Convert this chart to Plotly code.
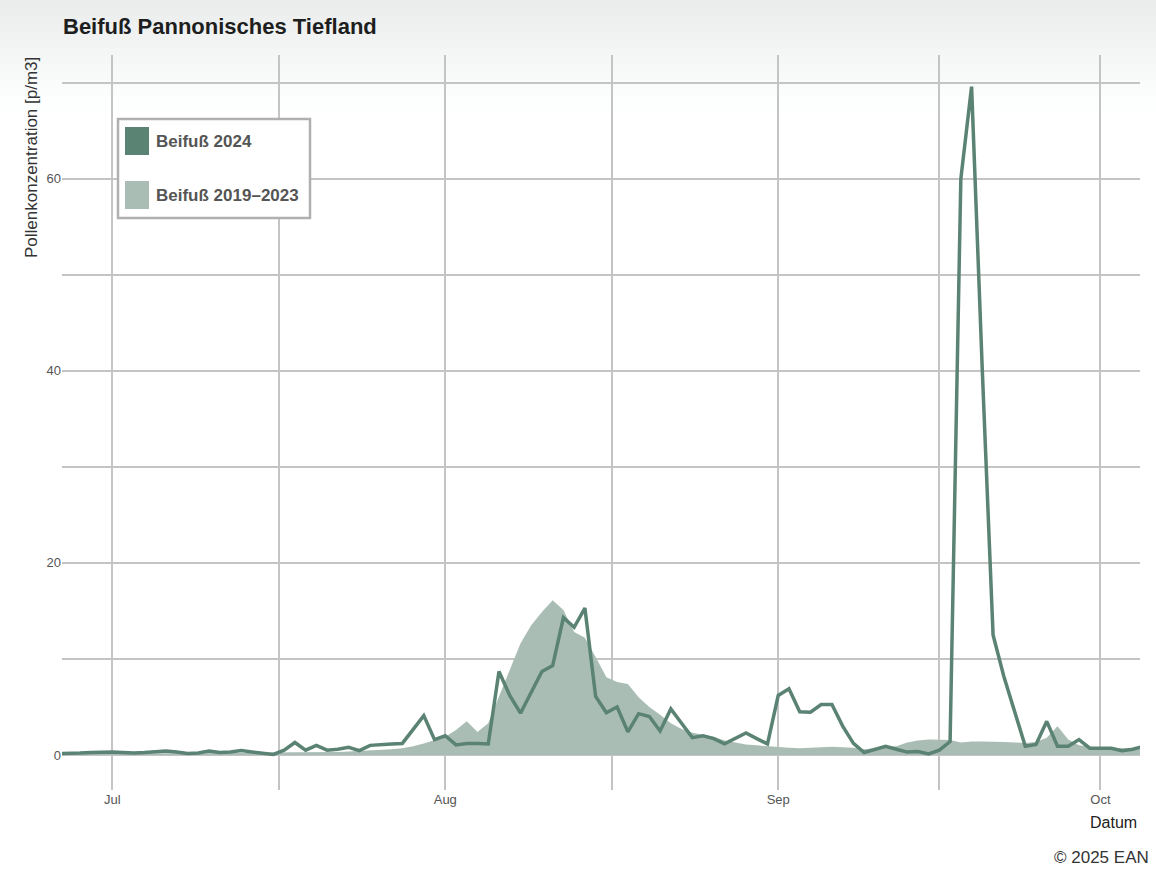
import pandas as pd
import plotly.graph_objects as go

# ---- data (daily values, starting 2024-06-26) ----
start_date = "2024-06-26"
beifuss_2024 = [
    0.15, 0.15, 0.2, 0.25, 0.3,            # Jun 26-30
    0.3, 0.25, 0.2, 0.25, 0.3, 0.4, 0.3, 0.15, 0.2, 0.4,
    0.25, 0.3, 0.45, 0.3, 0.15, 0.05, 0.5, 1.3, 0.5, 1.0,
    0.5, 0.6, 0.8, 0.45, 1.0, 1.1, 1.15, 1.2, 2.6, 4.1, 1.6,   # Jul
    2.0, 1.05, 1.2, 1.2, 1.15, 8.7, 6.2, 4.35, 6.5, 8.7,
    9.3, 14.3, 13.3, 15.3, 6.1, 4.4, 5.0, 2.4, 4.3, 4.0,
    2.5, 4.8, 3.3, 1.8, 2.0, 1.7, 1.15, 1.7, 2.3, 1.7, 1.15,    # Aug
    6.2, 6.9, 4.5, 4.45, 5.25, 5.25, 3.0, 1.2, 0.25, 0.6,
    0.9, 0.6, 0.3, 0.35, 0.1, 0.5, 1.4, 60.0, 69.6, 40.0,
    12.5, 8.2, 4.6, 0.9, 1.1, 3.5, 0.9, 0.9, 1.6, 0.7,          # Sep
    0.7, 0.7, 0.45, 0.6, 0.9,                                   # Oct 1-5
]
beifuss_2019_2023 = [
    0.15, 0.15, 0.15, 0.15, 0.15,
    0.15, 0.15, 0.15, 0.2, 0.2, 0.2, 0.2, 0.2, 0.2, 0.2,
    0.2, 0.2, 0.2, 0.2, 0.25, 0.25, 0.25, 0.25, 0.25, 0.25,
    0.25, 0.3, 0.35, 0.4, 0.45, 0.5, 0.6, 0.7, 0.9, 1.2, 1.55,
    1.9, 2.6, 3.5, 2.4, 3.3, 6.1, 8.9, 11.6, 13.5, 14.9,
    16.1, 15.1, 12.8, 12.2, 10.2, 8.1, 7.6, 7.4, 6.0, 5.0,
    4.2, 3.3, 2.7, 2.3, 2.1, 1.9, 1.5, 1.3, 1.1, 1.0, 0.9,
    0.85, 0.75, 0.7, 0.75, 0.8, 0.85, 0.8, 0.75, 0.6, 0.7,
    0.85, 0.9, 1.3, 1.5, 1.6, 1.6, 1.55, 1.3, 1.4, 1.4,
    1.4, 1.35, 1.3, 1.25, 1.35, 1.8, 3.0, 1.6, 1.0, 0.85,
    0.7, 0.7, 0.7, 0.7, 0.7,
]
month_ticks = ["2024-07-01", "2024-07-16 12:00", "2024-08-01", "2024-08-16 12:00",
               "2024-09-01", "2024-09-16", "2024-10-01"]
month_labels = ["Jul", "", "Aug", "", "Sep", "", "Oct"]
y_ticks = [0, 10, 20, 30, 40, 50, 60, 70]
y_labels = ["0", "", "20", "", "40", "", "60", ""]

dates = pd.date_range(start_date, periods=len(beifuss_2024), freq="D")

C_LINE = "#5b8373"
C_AREA = "#a9bdb4"
GRID = "#c4c4c4"
FONT = "Liberation Sans, Arial, sans-serif"

fig = go.Figure()
fig.add_trace(go.Scatter(
    x=dates, y=beifuss_2019_2023, mode="lines", fill="tozeroy",
    fillcolor=C_AREA, line=dict(width=0, color=C_AREA),
    name="Beifuß 2019–2023", showlegend=False,
))
fig.add_trace(go.Scatter(
    x=dates, y=beifuss_2024, mode="lines",
    line=dict(width=3.5, color=C_LINE),
    name="Beifuß 2024", showlegend=False,
))

W, H = 1156, 872
L, R, T, B = 62, 16, 55, 82
pw, ph = W - L - R, H - T - B

def px(xpix):
    return (xpix - L) / pw

def py(ypix):
    return 1 - (ypix - T) / ph

shapes = []
# soft gradient at the top of the page
n = 14
for i in range(n):
    y0p, y1p = i * 8, (i + 1) * 8
    g = int(234 + (255 - 234) * (i / n))
    shapes.append(dict(type="rect", xref="paper", yref="paper",
                       x0=px(0), x1=px(W), y0=py(y1p), y1=py(y0p),
                       fillcolor=f"rgb({g},{min(255, g + 3)},{min(255, g + 2)})",
                       line=dict(width=0), layer="below"))
# legend box
shapes.append(dict(type="rect", xref="paper", yref="paper",
                   x0=px(118), x1=px(310), y0=py(218), y1=py(119),
                   fillcolor="white", line=dict(color="#b0b0b0", width=2.5),
                   layer="above"))
shapes.append(dict(type="rect", xref="paper", yref="paper",
                   x0=px(125), x1=px(149), y0=py(155), y1=py(127),
                   fillcolor=C_LINE, line=dict(width=0), layer="above"))
shapes.append(dict(type="rect", xref="paper", yref="paper",
                   x0=px(125), x1=px(149), y0=py(209), y1=py(181),
                   fillcolor=C_AREA, line=dict(width=0), layer="above"))

annotations = [
    dict(text="<b>Beifuß Pannonisches Tiefland</b>", xref="paper", yref="paper",
         x=px(61), y=py(26), xanchor="left", yanchor="middle", showarrow=False,
         font=dict(family=FONT, size=22, color="#1e1e1e")),
    dict(text="Pollenkonzentration [p/m3]", xref="paper", yref="paper",
         x=px(31), y=py(158), xanchor="center", yanchor="middle", textangle=-90,
         showarrow=False, font=dict(family=FONT, size=17, color="#333333")),
    dict(text="Datum", xref="paper", yref="paper", x=px(1139), y=py(822),
         xanchor="right", yanchor="middle", showarrow=False,
         font=dict(family=FONT, size=16, color="#222222")),
    dict(text="© 2025 EAN", xref="paper", yref="paper", x=px(1151), y=py(857),
         xanchor="right", yanchor="middle", showarrow=False,
         font=dict(family=FONT, size=17, color="#333333")),
    dict(text="<b>Beifuß 2024</b>", xref="paper", yref="paper", x=px(154), y=py(141),
         xanchor="left", yanchor="middle", showarrow=False,
         font=dict(family=FONT, size=17, color="#555555")),
    dict(text="<b>Beifuß 2019–2023</b>", xref="paper", yref="paper", x=px(154), y=py(196),
         xanchor="left", yanchor="middle", showarrow=False,
         font=dict(family=FONT, size=17, color="#555555")),
]

fig.update_layout(
    width=W, height=H,
    margin=dict(l=L, r=R, t=T, b=B),
    paper_bgcolor="white",
    plot_bgcolor="rgba(0,0,0,0)",
    font=dict(family=FONT, color="#555555"),
    showlegend=False,
    shapes=shapes,
    annotations=annotations,
    xaxis=dict(
        type="date",
        range=["2024-06-26 07:36", "2024-10-04 16:20"],
        tickmode="array", tickvals=month_ticks, ticktext=month_labels,
        showgrid=True, gridcolor=GRID, gridwidth=2,
        zeroline=False, showline=False, ticks="",
        tickfont=dict(size=13, color="#555555"),
    ),
    yaxis=dict(
        range=[-3.65, 72.9],
        tickmode="array", tickvals=y_ticks, ticktext=y_labels,
        showgrid=True, gridcolor=GRID, gridwidth=2,
        zeroline=False, showline=False, ticks="",
        tickfont=dict(size=13, color="#555555"),
    ),
)

fig.write_html(
    "out.html",
    config={"displayModeBar": False},
    post_script="document.body.style.margin='0px';document.body.style.overflow='hidden';",
)
